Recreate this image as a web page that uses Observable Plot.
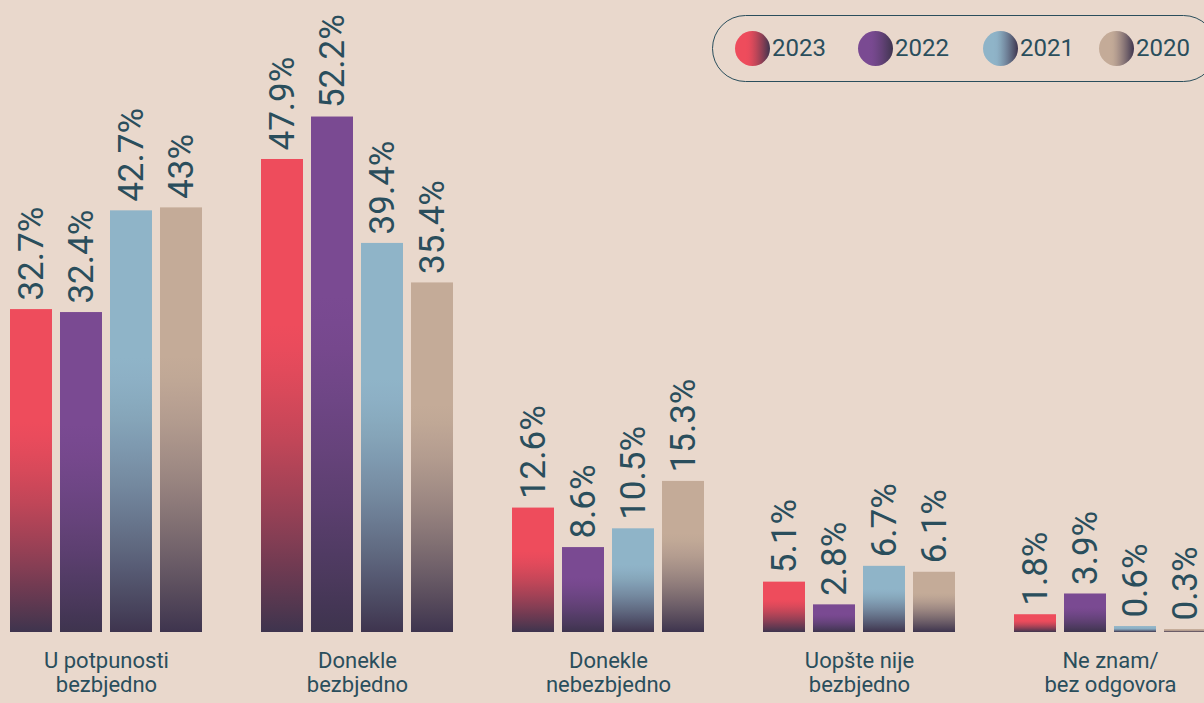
<!DOCTYPE html>
<html>
<head>
<meta charset="utf-8">
<script src="https://cdn.jsdelivr.net/npm/d3@7"></script>
<script src="https://cdn.jsdelivr.net/npm/@observablehq/plot@0.6"></script>
<style>
  html, body { margin: 0; padding: 0; background: #e9d8cc; overflow: hidden; }
  #wrap { position: relative; width: 1204px; height: 703px; overflow: hidden; background: #e9d8cc; font-family: Roboto, sans-serif; color: #2a4e5c; }
  #legend { position: absolute; left: 712px; top: 15px; width: 505px; height: 67px; box-sizing: border-box; border: 1.5px solid #2a4e5c; border-radius: 34px; }
  .item { position: absolute; top: 0; height: 64px; display: flex; align-items: center; }
  .dot { width: 35px; height: 35px; border-radius: 50%; margin-right: 2px; }
  .lab { font-size: 24px; color: #2a4e5c; }
  #chart { position: absolute; left: 0; top: 0; }
</style>
</head>
<body>
<svg width="0" height="0" style="position:absolute">
  <defs id="defs"></defs>
</svg>
<div id="wrap">
  <div id="chart"></div>
  <div id="legend"></div>
</div>
<script>
const categories = ["U potpunosti\nbezbjedno", "Donekle\nbezbjedno", "Donekle\nnebezbjedno", "Uopšte nije\nbezbjedno", "Ne znam/\nbez odgovora"];
const years = ["2023", "2022", "2021", "2020"];
const v2023 = [32.7, 47.9, 12.6, 5.1, 1.8];
const v2022 = [32.4, 52.2, 8.6, 2.8, 3.9];
const v2021 = [42.7, 39.4, 10.5, 6.7, 0.6];
const v2020 = [43, 35.4, 15.3, 6.1, 0.3];
const yearColors = ["#ee4c5c", "#7a4a92", "#8fb4c8", "#c4ab98"];
const darkColor = "#3e344e";
const textColor = "#2a4e5c";

const series = {"2023": v2023, "2022": v2022, "2021": v2021, "2020": v2020};
const data = [];
categories.forEach((c, i) => years.forEach(y => data.push({cat: c, year: y, value: series[y][i]})));

// smooth gradients (color -> dark towards the bottom)
function stops(col) {
  const mix = d3.interpolateRgb(col, darkColor);
  let s = "";
  for (let k = 0; k <= 20; k++) {
    const t = k / 20;
    const m = t < 0.35 ? 0 : Math.pow((t - 0.35) / 0.65, 1.4);
    s += `<stop offset="${t}" stop-color="${mix(m)}"/>`;
  }
  return s;
}
function cssStops(col) {
  const mix = d3.interpolateRgb(col, darkColor);
  const arr = [];
  for (let k = 0; k <= 10; k++) {
    const t = k / 10;
    const m = t < 0.35 ? 0 : Math.pow((t - 0.35) / 0.65, 1.4);
    arr.push(`${mix(m)} ${t * 100}%`);
  }
  return arr.join(", ");
}
const defs = document.getElementById("defs");
let defHtml = "";
years.forEach((y, i) => {
  defHtml += `<linearGradient id="g${y}" x1="0" y1="0" x2="0" y2="1">${stops(yearColors[i])}</linearGradient>`;
});
defs.innerHTML = defHtml;

// legend
const legend = document.getElementById("legend");
const legendLeft = [22, 145, 270, 386];
years.forEach((y, i) => {
  const it = document.createElement("div");
  it.className = "item";
  it.style.left = legendLeft[i] + "px";
  it.innerHTML = `<div class="dot" style="background: linear-gradient(90deg, ${cssStops(yearColors[i])})"></div><span class="lab">${y}</span>`;
  legend.appendChild(it);
});

const plot = Plot.plot({
  width: 1209,
  height: 703,
  marginLeft: 8,
  marginRight: 0,
  marginTop: 0,
  marginBottom: 71,
  style: {background: "transparent", color: textColor, fontFamily: "Roboto, sans-serif", maxWidth: "none", overflow: "visible"},
  fx: {domain: categories, paddingInner: 0.227, paddingOuter: 0, label: null},
  x: {domain: years, paddingInner: 0.17, paddingOuter: 0, axis: null},
  y: {domain: [0, 64], axis: null},
  color: {type: "identity"},
  marks: [
    Plot.barY(data, {fx: "cat", x: "year", y: "value", fill: d => `url(#g${d.year})`}),
    Plot.text(data, {fx: "cat", x: "year", y: "value", text: d => d.value + "%", rotate: -90, textAnchor: "start", lineAnchor: "middle", dy: -9, fontSize: 35, fill: textColor}),
    Plot.axisFx({anchor: "bottom", tickSize: 0, tickPadding: 18, fontSize: 22, lineHeight: 1.1, fill: textColor, label: null})
  ]
});
document.getElementById("chart").appendChild(plot);
</script>
</body>
</html>
